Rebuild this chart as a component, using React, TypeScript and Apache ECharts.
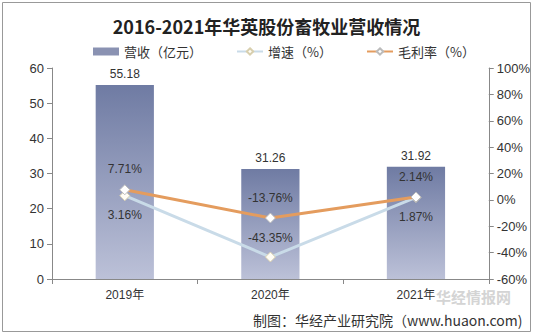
import React, { useEffect, useRef } from "react";
import * as echarts from "echarts";

const categories = ["2019年", "2020年", "2021年"];
const revenue = [55.18, 31.26, 31.92];
const growth = [3.16, -43.35, 1.87];
const margin = [7.71, -13.76, 2.14];
const growthLabelPos = ["bottom", "top", "bottom"];
const marginLabelPos = ["top", "top", "top"];

export default function App() {
  const ref = useRef<HTMLDivElement>(null);
  useEffect(() => {
    const chart = echarts.init(ref.current!, null, { renderer: "svg" });
    const font = "Arial, 'Liberation Sans', 'Noto Sans CJK SC', sans-serif";
    chart.setOption({
      animation: false,
      backgroundColor: "#ffffff",
      title: {
        text: "2016-2021年华英股份畜牧业营收情况",
        left: "center",
        top: 12,
        textStyle: { fontSize: 18, fontWeight: "bold", color: "#222", fontFamily: "'Noto Sans CJK SC', serif" },
      },
      legend: {
        top: 40,
        left: 88,
        itemGap: 34,
        itemWidth: 26,
        itemHeight: 8,
        textStyle: { fontSize: 13, color: "#333", fontFamily: "'Noto Sans CJK SC', sans-serif" },
        data: [
          { name: "营收（亿元）", icon: "rect", itemStyle: { color: "#8a92b2" } },
          { name: "增速（%）" },
          { name: "毛利率（%）" },
        ],
      },
      grid: { left: 52, right: 44, top: 68, bottom: 56 },
      xAxis: {
        type: "category",
        data: categories,
        axisLine: { lineStyle: { color: "#888" } },
        axisTick: { show: true, lineStyle: { color: "#888" } },
        axisLabel: { fontSize: 12, color: "#333", margin: 10, fontFamily: font },
      },
      yAxis: [
        {
          type: "value",
          min: 0,
          max: 60,
          interval: 10,
          splitLine: { show: false },
          axisLine: { show: true, lineStyle: { color: "#888" } },
          axisTick: { show: true, lineStyle: { color: "#888" } },
          axisLabel: { fontSize: 13, color: "#333", fontFamily: font },
        },
        {
          type: "value",
          min: -60,
          max: 100,
          interval: 20,
          splitLine: { show: false },
          axisLine: { show: true, lineStyle: { color: "#888" } },
          axisTick: { show: true, lineStyle: { color: "#888" } },
          axisLabel: { fontSize: 13, color: "#333", formatter: "{value}%", fontFamily: font },
        },
      ],
      series: [
        {
          name: "营收（亿元）",
          type: "bar",
          data: revenue,
          barWidth: "40%",
          itemStyle: {
            color: new echarts.graphic.LinearGradient(0, 0, 0, 1, [
              { offset: 0, color: "#6f7ba3" },
              { offset: 1, color: "#bcc1d8" },
            ]),
          },
          label: { show: true, position: "top", fontSize: 12, color: "#333", fontFamily: font },
        },
        {
          name: "增速（%）",
          type: "line",
          yAxisIndex: 1,
          data: growth.map((v, i) => ({
            value: v,
            label: { position: growthLabelPos[i] },
          })),
          symbol: "diamond",
          symbolSize: 10,
          lineStyle: { color: "#c9dbe8", width: 3 },
          itemStyle: { color: "#fffdf5", borderColor: "#d8cfae", borderWidth: 1 },
          label: { show: true, formatter: "{c}%", fontSize: 12, color: "#333", distance: 8, fontFamily: font },
          z: 3,
        },
        {
          name: "毛利率（%）",
          type: "line",
          yAxisIndex: 1,
          data: margin.map((v, i) => ({
            value: v,
            label: { position: marginLabelPos[i] },
          })),
          symbol: "diamond",
          symbolSize: 10,
          lineStyle: { color: "#e49c5e", width: 3 },
          itemStyle: { color: "#ffffff", borderColor: "#bbbbbb", borderWidth: 1 },
          label: { show: true, formatter: "{c}%", fontSize: 12, color: "#333", distance: 9, fontFamily: font },
          z: 4,
        },
      ],
      graphic: [
        {
          type: "rect",
          shape: { x: 2.5, y: 2.5, width: 528, height: 329 },
          style: { fill: "none", stroke: "#999", lineWidth: 1 },
          silent: true,
        },
        {
          type: "text",
          x: 436,
          y: 289,
          style: { text: "华经情报网", fontSize: 15, fontWeight: "bold", fill: "#d4d4d4", fontFamily: "'Noto Sans CJK SC', sans-serif" },
          silent: true,
        },
        {
          type: "text",
          x: 253,
          y: 313,
          style: {
            text: "制图：华经产业研究院（www.huaon.com)",
            fontSize: 14,
            fill: "#333",
            fontFamily: "'Noto Sans CJK SC', sans-serif",
          },
          silent: true,
          z: 10,
        },
      ],
    });
    return () => chart.dispose();
  }, []);
  return <div ref={ref} style={{ position: "fixed", left: 0, top: 0, width: 533, height: 335 }} />;
}
